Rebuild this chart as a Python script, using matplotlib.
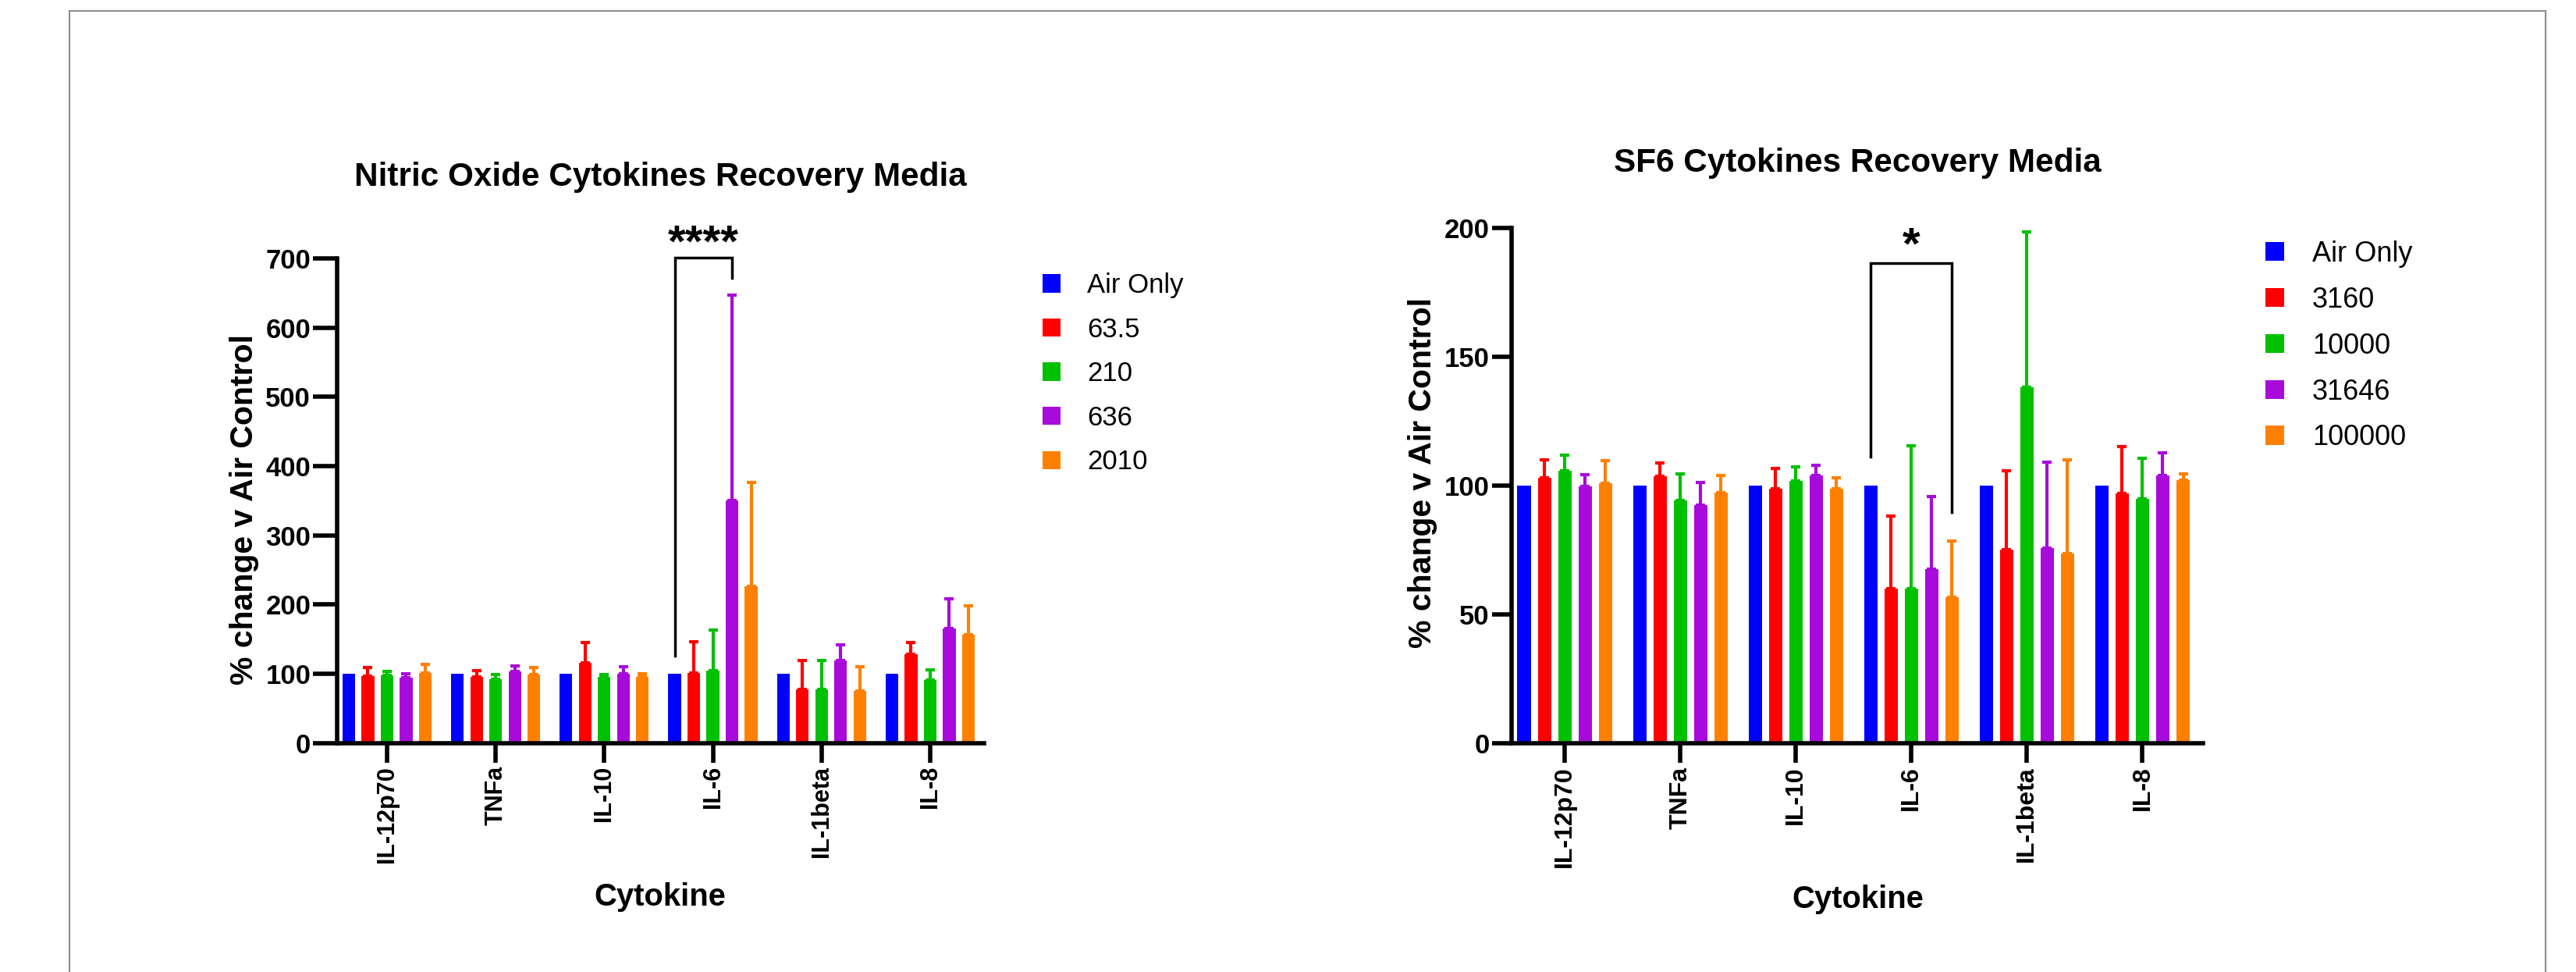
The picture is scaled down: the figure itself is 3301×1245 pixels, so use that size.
import numpy as np
import matplotlib
matplotlib.use("Agg")
import matplotlib.pyplot as plt
from matplotlib.patches import Patch
from matplotlib.lines import Line2D

plt.rcParams['font.family'] = ['Liberation Sans', 'DejaVu Sans']

cytokines = ['IL-12p70', 'TNFa', 'IL-10', 'IL-6', 'IL-1beta', 'IL-8']
colors = ['#0000FF', '#FF0000', '#00C000', '#A80ADC', '#FF8000']

# Nitric oxide, one row per cytokine, one column per dose
no_labels = ['Air Only', '63.5', '210', '636', '2010']
no_mean = np.array([
    [100, 97.0, 98.0, 95.0, 101.5],
    [100, 96.0, 92.0, 104.0, 99.5],
    [100, 116.0, 96.0, 100.5, 96.0],
    [100, 101.5, 105.0, 351.0, 226.0],
    [100, 77.5, 77.5, 118.8, 75.5],
    [100, 128.0, 91.6, 165.0, 157.0],
])
no_top = np.array([
    [100, 109.0, 103.0, 100.5, 114.0],
    [100, 104.5, 99.5, 111.0, 109.5],
    [100, 145.5, 98.5, 110.0, 100.0],
    [100, 146.5, 163.5, 647.0, 376.0],
    [100, 119.3, 119.8, 141.5, 109.8],
    [100, 145.0, 105.7, 208.0, 198.0],
])

# SF6
sf_labels = ['Air Only', '3160', '10000', '31646', '100000']
sf_mean = np.array([
    [100, 103.0, 105.8, 99.9, 101.0],
    [100, 103.6, 94.2, 92.5, 97.2],
    [100, 98.8, 101.9, 103.9, 98.8],
    [100, 60.0, 60.0, 67.7, 56.7],
    [100, 75.2, 138.1, 75.7, 73.6],
    [100, 97.0, 94.9, 104.0, 102.3],
])
sf_top = np.array([
    [100, 110.1, 111.9, 104.3, 109.9],
    [100, 108.8, 104.6, 101.2, 104.0],
    [100, 106.7, 107.2, 108.0, 103.2],
    [100, 88.3, 115.4, 95.8, 78.7],
    [100, 105.9, 198.4, 109.2, 110.2],
    [100, 115.1, 110.7, 112.9, 104.5],
])

W, H = 3301, 1245
fig = plt.figure(figsize=(W / 100, H / 100), dpi=100)


def px(x0, y0, x1, y1):
    # pixel box (top-left origin) -> figure fraction rect
    return [x0 / W, 1 - y1 / H, (x1 - x0) / W, (y1 - y0) / H]


def draw(ax, mean, top, labels, ymax, ystep, xmax, ytick_len, tick_fs, leg_xy, leg_fs, leg_sp):
    x = np.arange(len(cytokines))
    pitch = 0.176
    for j in range(mean.shape[1]):
        xs = x + (j - 2) * pitch
        ax.bar(xs, mean[:, j], width=0.116, color=colors[j], linewidth=0, zorder=2)
        if j > 0:
            err = top[:, j] - mean[:, j]
            ax.errorbar(xs, mean[:, j], yerr=[np.zeros_like(err), err], fmt='none',
                        ecolor=colors[j], elinewidth=3, capsize=4, capthick=3, zorder=1)
    ax.set_xlim(-0.463, xmax)
    ax.set_ylim(0, ymax)
    ax.set_yticks(np.arange(0, ymax + 1, ystep))
    ax.set_xticks(x)
    ax.set_xticklabels(cytokines, rotation=90, fontweight='bold', fontsize=tick_fs)
    for t in ax.get_yticklabels():
        t.set_fontweight('bold')
        t.set_fontsize(25)
    for s in ['top', 'right']:
        ax.spines[s].set_visible(False)
    for s in ['left', 'bottom']:
        ax.spines[s].set_linewidth(4)
    ax.tick_params(axis='y', length=ytick_len, width=4, pad=2)
    ax.tick_params(axis='x', length=18, width=4, pad=3)
    handles = [Patch(facecolor=c, edgecolor='none') for c in colors]
    ax.legend(handles, labels, loc='upper left', bbox_to_anchor=(leg_xy[0] / W, 1 - leg_xy[1] / H),
              bbox_transform=fig.transFigure, frameon=False, fontsize=leg_fs,
              handlelength=0.66, handleheight=0.66, handletextpad=1.0,
              labelspacing=leg_sp, borderpad=0, borderaxespad=0)


ax1 = fig.add_axes(px(431.5, 331.0, 1261.0, 951.8))
draw(ax1, no_mean, no_top, no_labels, 700, 100, 5.496, 22, 22, (1335.7, 349.0), 25, 0.68)
ax2 = fig.add_axes(px(1936.6, 292.1, 2823.0, 952.4))
draw(ax2, sf_mean, sf_top, sf_labels, 200, 50, 5.524, 18, 23, (2903.0, 308.0), 26, 0.66)

# significance brackets
p = 0.176
ax1.plot([3 - 2 * p, 3 - 2 * p, 3 + p, 3 + p], [126, 701, 701, 672], color='k', lw=2.5,
         clip_on=False, solid_joinstyle='miter')
ax1.text(3 - 0.5 * p, 703, '****', ha='center', va='baseline', fontsize=42,
         fontweight='bold', clip_on=False)
ax2.plot([3 - 2 * p, 3 - 2 * p, 3 + 2 * p, 3 + 2 * p], [111.3, 186.5, 186.5, 89.9], color='k',
         lw=2.5, clip_on=False, solid_joinstyle='miter')
ax2.text(3, 188, '*', ha='center', va='baseline', fontsize=42, fontweight='bold', clip_on=False)

# titles and axis labels
fig.text(846 / W, 1 - 226.7 / H, 'Nitric Oxide Cytokines Recovery Media', ha='center',
         va='center', fontsize=30.4, fontweight='bold')
fig.text(2380 / W, 1 - 209 / H, 'SF6 Cytokines Recovery Media', ha='center',
         va='center', fontsize=30.4, fontweight='bold')
fig.text(312.5 / W, 1 - 652.7 / H, '% change v Air Control', rotation=90, ha='center',
         va='center', fontsize=29.5, fontweight='bold')
fig.text(1823 / W, 1 - 605 / H, '% change v Air Control', rotation=90, ha='center',
         va='center', fontsize=29.5, fontweight='bold')
fig.text(846 / W, 1 - 1149 / H, 'Cytokine', ha='center', va='center', fontsize=28.8,
         fontweight='bold')
fig.text(2381 / W, 1 - 1152 / H, 'Cytokine', ha='center', va='center', fontsize=28.8,
         fontweight='bold')

# grey page frame
fc = '#8c8c8c'
fig.add_artist(Line2D([89 / W, 89 / W], [0, 1 - 14.3 / H], color=fc, lw=1.5))
fig.add_artist(Line2D([89 / W, 3262 / W], [1 - 14.3 / H, 1 - 14.3 / H], color=fc, lw=1.5))
fig.add_artist(Line2D([3262 / W, 3262 / W], [0, 1 - 14.3 / H], color=fc, lw=1.5))

fig.savefig('out.png', dpi=100)
